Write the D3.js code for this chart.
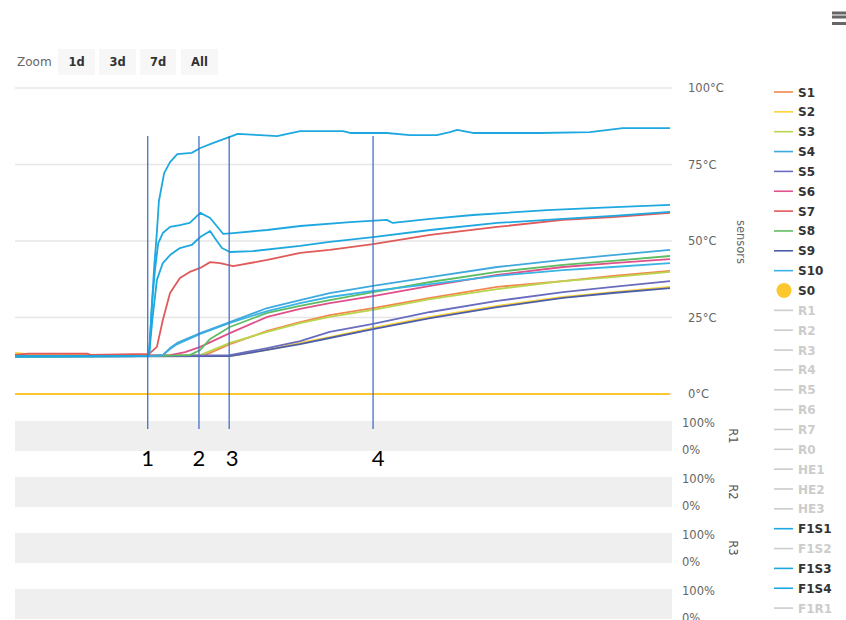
<!DOCTYPE html>
<html><head><meta charset="utf-8">
<script src="https://cdn.jsdelivr.net/npm/d3@7"></script>
<style>
html,body{margin:0;padding:0;background:#fff;}
svg{display:block;font-family:"DejaVu Sans",Verdana,sans-serif;}
</style></head>
<body><svg id="c" width="846" height="620"></svg>
<script>
// ---- data (time in arbitrary units 0..100, values in °C) ----
const zoomButtons = ["1d","3d","7d","All"];
const tempTicks = [0,25,50,75,100];
const pctTicks = [0,100];
const bandNames = ["R1","R2","R3",""];
const markerTimes = [20.2, 28.0, 32.6, 54.5];
const markerLabels = ["1","2","3","4"];

const S1 = [[0,12.9],[10,12.6],[20.4,12.6],[28.9,12.7],[32.7,16.3],[38.4,20.6],[43.4,23.5],[47.9,25.8],[54.5,28.1],[63.2,31.4],[73.4,35.0],[83.4,36.9],[91.0,38.6],[99.7,40.2]];
const S2 = [[0,13.4],[2,13.0],[20.4,12.5],[32.7,12.4],[38.4,14.4],[43.4,16.7],[47.9,18.6],[54.5,21.6],[63.2,25.2],[73.4,28.8],[83.4,31.7],[91.0,33.3],[99.7,35.0]];
const S3 = [[0,12.6],[20.4,12.5],[28.2,12.7],[32.7,16.7],[38.4,20.3],[43.4,23.2],[47.9,25.2],[54.5,27.5],[63.2,31.0],[73.4,34.3],[83.4,36.9],[91.0,38.2],[99.7,39.9]];
const S4 = [[0,12.4],[20.4,12.4],[22.5,12.7],[23.6,15.0],[24.7,16.7],[28.2,19.9],[32.7,23.5],[38.4,28.1],[43.4,30.7],[47.9,33.0],[54.5,35.3],[63.2,38.2],[73.4,41.5],[83.4,43.8],[91.0,45.4],[99.7,47.1]];
const S5 = [[0,12.3],[20.4,12.4],[32.7,12.7],[38.4,15.0],[43.4,17.3],[47.9,20.3],[54.5,22.9],[63.2,26.8],[73.4,30.4],[83.4,33.3],[91.0,35.0],[99.7,36.9]];
const S6 = [[0,12.5],[20.4,12.6],[23.6,12.7],[25.9,13.7],[28.2,15.4],[32.7,19.9],[38.4,25.2],[43.4,27.8],[47.9,29.7],[54.5,32.0],[63.2,35.3],[73.4,38.9],[83.4,41.5],[91.0,42.8],[99.7,44.1]];
const S7 = [[0,12.8],[2,13.2],[11,13.2],[11.5,12.8],[20.4,13.1],[21.6,15.4],[22.5,24.2],[23.6,33.0],[25.1,37.9],[26.6,39.9],[28.2,41.2],[29.7,43.1],[31.2,42.8],[33.2,41.8],[38.4,43.8],[43.4,46.1],[47.9,47.1],[54.5,49.0],[63.2,52.0],[73.4,54.6],[83.4,56.9],[91.0,57.8],[99.7,59.2]];
const S8 = [[0,12.2],[20.4,12.4],[26.6,12.7],[28.2,14.4],[29.7,18.0],[32.7,21.9],[38.4,26.5],[43.4,28.8],[47.9,30.7],[54.5,33.3],[63.2,36.6],[73.4,39.9],[83.4,42.2],[91.0,43.5],[99.7,45.1]];
const S9 = [[0,12.2],[20.4,12.3],[32.7,12.4],[38.4,14.4],[43.4,16.3],[47.9,18.3],[54.5,21.2],[63.2,24.8],[73.4,28.4],[83.4,31.4],[91.0,33.0],[99.7,34.6]];
const S10 = [[0,12.3],[20.4,12.4],[22.5,12.7],[23.6,14.7],[24.7,16.3],[28.2,19.6],[32.7,23.2],[38.4,27.1],[43.4,29.7],[47.9,31.7],[54.5,33.7],[63.2,35.9],[73.4,38.6],[83.4,40.5],[91.0,41.5],[99.7,42.8]];
const S0 = [[0,0],[99.7,0]];
const F1S1 = [[0,12.3],[20.4,12.4],[20.8,28.0],[21.2,42.0],[21.6,53.0],[21.9,63.0],[22.7,72.2],[23.6,75.8],[24.7,78.4],[26.9,78.8],[28.2,80.4],[30.1,82.0],[32.7,84.0],[33.9,85.0],[37.3,84.6],[39.9,84.3],[43.4,85.9],[49.9,85.9],[51.0,85.3],[56.6,85.3],[60.1,84.6],[64.2,84.6],[66.2,85.6],[67.3,86.3],[69.7,85.3],[79.9,85.3],[87.5,85.6],[92.5,86.9],[99.7,86.9]];
const F1S3 = [[0,12.3],[20.4,12.4],[20.9,30.7],[21.3,40.5],[21.8,49.3],[22.5,52.6],[23.6,54.6],[25.1,55.2],[26.6,55.9],[28.2,59.2],[29.7,57.5],[31.2,53.6],[31.7,52.3],[33.2,52.6],[38.4,53.6],[43.4,54.9],[51.0,56.2],[56.6,56.9],[57.5,55.9],[63.2,57.2],[69.7,58.5],[81.0,60.1],[88.6,60.8],[99.7,61.8]];
const F1S4 = [[0,12.3],[20.4,12.4],[20.9,24.2],[21.6,37.3],[22.5,42.8],[23.6,45.4],[25.1,47.7],[26.9,48.7],[28.2,51.3],[29.7,53.3],[30.4,51.0],[31.5,47.7],[32.7,46.4],[36.2,46.7],[43.4,48.4],[47.9,49.7],[54.5,51.3],[63.2,53.6],[73.4,55.9],[83.4,57.2],[91.0,58.2],[99.7,59.5]];

const legendNames = ["S1","S2","S3","S4","S5","S6","S7","S8","S9","S10","S0","R1","R2","R3","R4","R5","R6","R7","R0","HE1","HE2","HE3","F1S1","F1S2","F1S3","F1S4","F1R1"];
const legendColors = {S1:"#f3874f",S2:"#fdd23a",S3:"#b9d64e",S4:"#3fa9de",S5:"#6a6dbd",S6:"#e0508a",S7:"#e05a5a",S8:"#5dbd62",S9:"#4d5ea8",S10:"#3ab4e4",S0:"#fcc82e",F1S1:"#1ea8e0",F1S3:"#1ea8e0",F1S4:"#1ea8e0"};
const seriesData = {S1,S2,S3,S4,S5,S6,S7,S8,S9,S10,S0,F1S1,F1S3,F1S4};
const drawOrder = ["S0","S1","S3","S2","S9","S5","S6","S8","S10","S4","S7","F1S4","F1S3","F1S1"];

// ---- layout ----
const svg = d3.select("#c");
const L = 15, R = 672;
const x = d3.scaleLinear().domain([0,100]).range([L,R]);
const y = d3.scaleLinear().domain([0,100]).range([394,88]);

// zoom buttons
svg.append("text").attr("x",17).attr("y",66).attr("font-size",12).attr("fill","#666").text("Zoom");
const bx = [58,99,140,181], bw = [37,37,36,37];
zoomButtons.forEach((b,i)=>{
  svg.append("rect").attr("x",bx[i]).attr("y",49).attr("width",bw[i]).attr("height",26).attr("fill","#f7f7f7");
  svg.append("text").attr("x",bx[i]+bw[i]/2).attr("y",66).attr("text-anchor","middle")
    .attr("font-size",11.5).attr("font-weight","bold").attr("fill","#333").text(b);
});

// hamburger (cut at the right edge)
[11.5,15.5,22].forEach(yy=>svg.append("rect").attr("x",832).attr("y",yy).attr("width",15).attr("height",3).attr("fill","#666"));

// gridlines
svg.append("g").selectAll("line").data(tempTicks).join("line")
  .attr("x1",L).attr("x2",R).attr("y1",d=>y(d)).attr("y2",d=>y(d))
  .attr("stroke","#e6e6e6").attr("stroke-width",1.5);

// temperature axis
const ax = svg.append("g").attr("transform",`translate(${R},0)`)
  .call(d3.axisRight(y).tickValues(tempTicks).tickSize(0).tickPadding(16).tickFormat(d=>d+"°C"));
ax.select(".domain").remove();
ax.selectAll("text").attr("font-size",11.5).attr("fill","#666").attr("font-family","DejaVu Sans, sans-serif");

svg.append("text").attr("transform","translate(737,242) rotate(90)").attr("text-anchor","middle")
  .attr("font-size",11.5).attr("fill","#666").text("sensors");

// relay bands
bandNames.forEach((nm,k)=>{
  const top = 421 + 56*k, bot = 451 + 56*k;
  const ys = d3.scaleLinear().domain([0,100]).range([bot-1,top+2]);
  svg.append("rect").attr("x",L).attr("y",top).attr("width",R-L).attr("height",bot-top).attr("fill","#efefef");
  const a = svg.append("g").attr("transform",`translate(${R},0)`)
    .call(d3.axisRight(ys).tickValues(pctTicks).tickSize(0).tickPadding(10).tickFormat(d=>d+"%"));
  a.select(".domain").remove();
  a.selectAll("text").attr("font-size",11.5).attr("fill","#666").attr("font-family","DejaVu Sans, sans-serif");
  if(nm) svg.append("text").attr("transform",`translate(729,${436+56*k}) rotate(90)`).attr("text-anchor","middle")
    .attr("font-size",11.5).attr("fill","#555").text(nm);
});

// series
const line = d3.line().x(d=>x(d[0])).y(d=>y(d[1]));
const gS = svg.append("g");
drawOrder.forEach(n=>{
  gS.append("path").attr("d",line(seriesData[n])).attr("fill","none")
    .attr("stroke",legendColors[n]).attr("stroke-width",n==="S0"?2:1.8).attr("stroke-linejoin","round");
});

// annotation markers
markerTimes.forEach((t,i)=>{
  svg.append("line").attr("x1",x(t)).attr("x2",x(t)).attr("y1",136).attr("y2",429)
    .attr("stroke","#4472c4").attr("stroke-width",1.3);
  svg.append("text").attr("x",x(t)+(i>=2?3:0)+(i===3?2:0)).attr("y",466).attr("text-anchor","middle")
    .attr("font-family","Lato, 'Open Sans', sans-serif").attr("font-size",22).attr("fill","#000").text(markerLabels[i]);
});

// legend
legendNames.forEach((n,i)=>{
  const yy = 92 + i*19.85;
  const col = legendColors[n];
  if(n==="S0"){
    svg.append("circle").attr("cx",784).attr("cy",yy).attr("r",7.5).attr("fill",col);
  } else {
    svg.append("line").attr("x1",774).attr("x2",793).attr("y1",yy).attr("y2",yy)
      .attr("stroke",col||"#cccccc").attr("stroke-width",1.6);
  }
  svg.append("text").attr("x",798).attr("y",yy+4.5).attr("font-size",12).attr("font-weight","bold")
    .attr("fill",col?"#333":"#cccccc").text(n);
});
</script></body></html>
